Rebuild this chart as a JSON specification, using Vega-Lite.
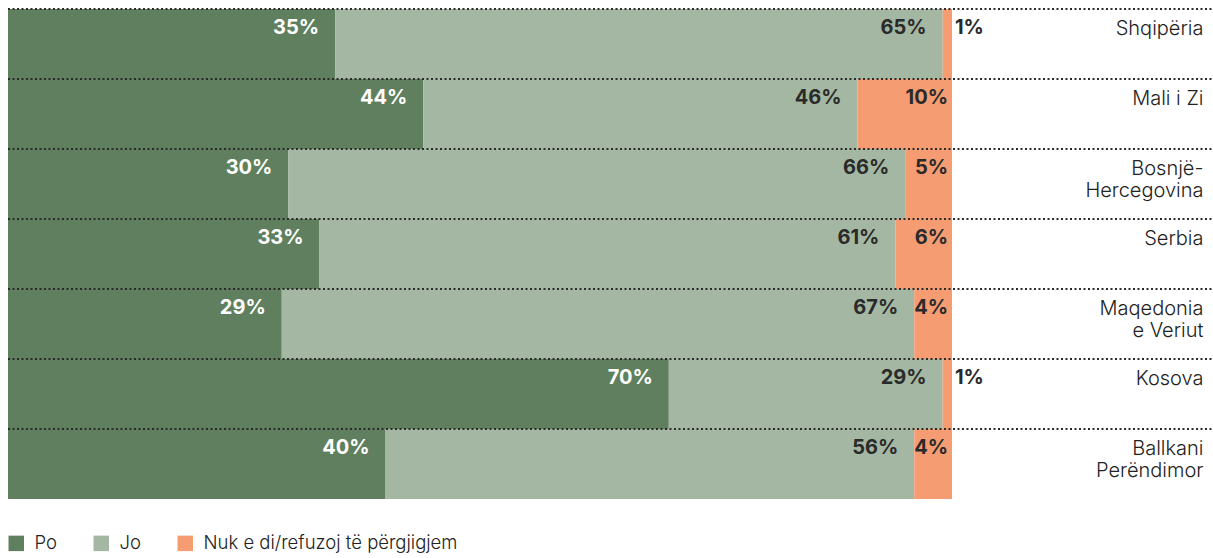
{
  "$schema": "https://vega.github.io/schema/vega-lite/v6.json",
  "width": 944,
  "height": 490,
  "padding": {"left": 7, "top": 8, "right": 0, "bottom": 0},
  "autosize": {"type": "pad"},
  "config": {"view": {"stroke": null}, "font": "Inter"},
  "data": {
    "values": [
      {"country": "Shqipëria", "cat": "Po", "order": 1, "value": 35},
      {"country": "Shqipëria", "cat": "Jo", "order": 2, "value": 65},
      {"country": "Shqipëria", "cat": "Nuk e di/refuzoj të përgjigjem", "order": 3, "value": 1},
      {"country": "Mali i Zi", "cat": "Po", "order": 1, "value": 44},
      {"country": "Mali i Zi", "cat": "Jo", "order": 2, "value": 46},
      {"country": "Mali i Zi", "cat": "Nuk e di/refuzoj të përgjigjem", "order": 3, "value": 10},
      {"country": "Bosnjë-Hercegovina", "cat": "Po", "order": 1, "value": 30},
      {"country": "Bosnjë-Hercegovina", "cat": "Jo", "order": 2, "value": 66},
      {"country": "Bosnjë-Hercegovina", "cat": "Nuk e di/refuzoj të përgjigjem", "order": 3, "value": 5},
      {"country": "Serbia", "cat": "Po", "order": 1, "value": 33},
      {"country": "Serbia", "cat": "Jo", "order": 2, "value": 61},
      {"country": "Serbia", "cat": "Nuk e di/refuzoj të përgjigjem", "order": 3, "value": 6},
      {"country": "Maqedonia e Veriut", "cat": "Po", "order": 1, "value": 29},
      {"country": "Maqedonia e Veriut", "cat": "Jo", "order": 2, "value": 67},
      {"country": "Maqedonia e Veriut", "cat": "Nuk e di/refuzoj të përgjigjem", "order": 3, "value": 4},
      {"country": "Kosova", "cat": "Po", "order": 1, "value": 70},
      {"country": "Kosova", "cat": "Jo", "order": 2, "value": 29},
      {"country": "Kosova", "cat": "Nuk e di/refuzoj të përgjigjem", "order": 3, "value": 1},
      {"country": "Ballkani Perëndimor", "cat": "Po", "order": 1, "value": 40},
      {"country": "Ballkani Perëndimor", "cat": "Jo", "order": 2, "value": 56},
      {"country": "Ballkani Perëndimor", "cat": "Nuk e di/refuzoj të përgjigjem", "order": 3, "value": 4}
    ]
  },
  "transform": [
    {"stack": "value", "groupby": ["country"], "sort": [{"field": "order", "order": "ascending"}], "as": ["v0", "v1"], "offset": "normalize"},
    {"calculate": "datum.value + '%'", "as": "label"}
  ],
  "encoding": {
    "y": {
      "field": "country",
      "type": "nominal",
      "sort": ["Shqipëria", "Mali i Zi", "Bosnjë-Hercegovina", "Serbia", "Maqedonia e Veriut", "Kosova", "Ballkani Perëndimor"],
      "scale": {"paddingInner": 0, "paddingOuter": 0},
      "axis": {
        "orient": "right",
        "title": null,
        "domain": false,
        "ticks": false,
        "grid": false,
        "labelAlign": "right",
        "labelBaseline": "top",
        "labelPadding": 251,
        "labelOffset": -25,
        "labelFontSize": 20,
        "labelFontWeight": 300,
        "labelFont": "Inter",
        "labelColor": "#222222",
        "labelLineHeight": 22,
        "labelLimit": 0,
        "labelExpr": "datum.value == 'Bosnjë-Hercegovina' ? ['Bosnjë-', 'Hercegovina'] : datum.value == 'Maqedonia e Veriut' ? ['Maqedonia', 'e Veriut'] : datum.value == 'Ballkani Perëndimor' ? ['Ballkani', 'Perëndimor'] : datum.value"
      }
    }
  },
  "layer": [
    {
      "mark": {"type": "bar"},
      "encoding": {
        "x": {"field": "v0", "type": "quantitative", "scale": {"domain": [0, 1], "nice": false, "zero": true}, "axis": null},
        "x2": {"field": "v1"},
        "color": {
          "field": "cat",
          "type": "nominal",
          "scale": {"domain": ["Po", "Jo", "Nuk e di/refuzoj të përgjigjem"], "range": ["#5f7f5e", "#a4b7a3", "#f59c73"]},
          "legend": {
            "title": null,
            "orient": "none",
            "legendX": -1,
            "legendY": 525,
            "direction": "horizontal",
            "symbolType": "square",
            "symbolSize": 240,
            "symbolStrokeWidth": 0,
            "labelFontSize": 18.5,
            "labelFontWeight": 300,
            "labelFont": "Inter",
            "labelColor": "#222222",
            "labelOffset": 9,
            "columnPadding": 35,
            "labelLimit": 0
          }
        }
      }
    },
    {
      "transform": [{"filter": "datum.cat == 'Po'"}],
      "mark": {"type": "rule", "strokeDash": [2, 2.5], "strokeWidth": 2, "color": "#2a2a2a"},
      "encoding": {
        "y": {"field": "country", "type": "nominal", "bandPosition": 0, "sort": ["Shqipëria", "Mali i Zi", "Bosnjë-Hercegovina", "Serbia", "Maqedonia e Veriut", "Kosova", "Ballkani Perëndimor"]},
        "x": {"datum": 0, "type": "quantitative"},
        "x2": {"datum": 1.2754}
      }
    },
    {
      "transform": [{"filter": "datum.cat == 'Po'"}],
      "mark": {"type": "text", "align": "right", "baseline": "middle", "dx": -16, "dy": -16, "fontSize": 20, "fontWeight": 700, "color": "#ffffff"},
      "encoding": {"x": {"field": "v1", "type": "quantitative"}, "text": {"field": "label"}}
    },
    {
      "transform": [{"filter": "datum.cat == 'Jo'"}],
      "mark": {"type": "text", "align": "right", "baseline": "middle", "dx": -16, "dy": -16, "fontSize": 20, "fontWeight": 700, "color": "#2a2a2a"},
      "encoding": {"x": {"field": "v1", "type": "quantitative"}, "text": {"field": "label"}}
    },
    {
      "transform": [{"filter": "datum.cat != 'Po' && datum.cat != 'Jo' && datum.value >= 3"}],
      "mark": {"type": "text", "align": "right", "baseline": "middle", "dx": -4, "dy": -16, "fontSize": 20, "fontWeight": 700, "color": "#2a2a2a"},
      "encoding": {"x": {"field": "v1", "type": "quantitative"}, "text": {"field": "label"}}
    },
    {
      "transform": [{"filter": "datum.cat != 'Po' && datum.cat != 'Jo' && datum.value < 3"}],
      "mark": {"type": "text", "align": "left", "baseline": "middle", "dx": 3, "dy": -16, "fontSize": 20, "fontWeight": 700, "color": "#2a2a2a"},
      "encoding": {"x": {"field": "v1", "type": "quantitative"}, "text": {"field": "label"}}
    }
  ]
}
